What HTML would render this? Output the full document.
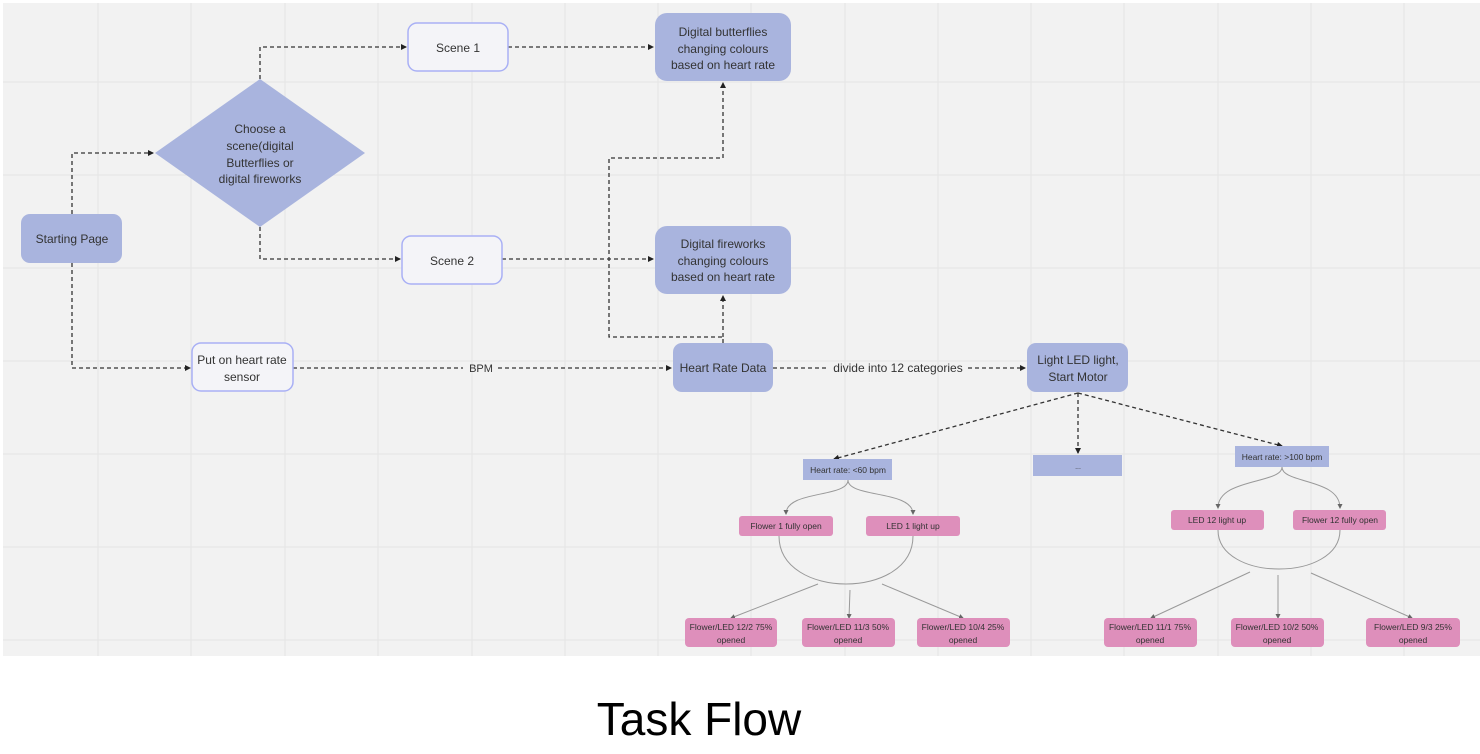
<!DOCTYPE html>
<html><head><meta charset="utf-8"><style>
html,body{margin:0;padding:0;background:#fff;}
svg{display:block;}
text{font-family:"Liberation Sans",sans-serif;fill:#333;}
</style></head><body>
<svg width="1480" height="754" viewBox="0 0 1480 754" xmlns="http://www.w3.org/2000/svg">
<defs>
<marker id="a" markerWidth="6" markerHeight="6" refX="5" refY="3" orient="auto" markerUnits="userSpaceOnUse"><path d="M0,0L6,3L0,6z" fill="#222"/></marker>
<marker id="g" markerWidth="5" markerHeight="5" refX="4" refY="2.5" orient="auto" markerUnits="userSpaceOnUse"><path d="M0,0L5,2.5L0,5z" fill="#666"/></marker>
</defs>
<rect x="3" y="3" width="1477" height="653" fill="#f2f2f2"/>
<g stroke="#e4e4e4" stroke-width="1">
<line x1="98" y1="3" x2="98" y2="656"/><line x1="191" y1="3" x2="191" y2="656"/><line x1="285" y1="3" x2="285" y2="656"/><line x1="378" y1="3" x2="378" y2="656"/><line x1="472" y1="3" x2="472" y2="656"/><line x1="565" y1="3" x2="565" y2="656"/><line x1="658" y1="3" x2="658" y2="656"/><line x1="751" y1="3" x2="751" y2="656"/><line x1="845" y1="3" x2="845" y2="656"/><line x1="938" y1="3" x2="938" y2="656"/><line x1="1031" y1="3" x2="1031" y2="656"/><line x1="1124" y1="3" x2="1124" y2="656"/><line x1="1218" y1="3" x2="1218" y2="656"/><line x1="1311" y1="3" x2="1311" y2="656"/><line x1="1404" y1="3" x2="1404" y2="656"/>
<line x1="3" y1="82" x2="1480" y2="82"/><line x1="3" y1="175" x2="1480" y2="175"/><line x1="3" y1="268" x2="1480" y2="268"/><line x1="3" y1="361" x2="1480" y2="361"/><line x1="3" y1="454" x2="1480" y2="454"/><line x1="3" y1="547" x2="1480" y2="547"/><line x1="3" y1="640" x2="1480" y2="640"/>
</g>
<g fill="none" stroke="#333" stroke-width="1.3" stroke-dasharray="4,3">
<path d="M72,214V153H153" marker-end="url(#a)"/>
<path d="M72,263V368H190" marker-end="url(#a)"/>
<path d="M260,79V47H406" marker-end="url(#a)"/>
<path d="M260,227V259H400" marker-end="url(#a)"/>
<path d="M508,47H653" marker-end="url(#a)"/>
<path d="M502,259H653" marker-end="url(#a)"/>
<path d="M293,368H463"/><path d="M498,368H671" marker-end="url(#a)"/>
<path d="M723,343V337H609V158H723V83" marker-end="url(#a)"/>
<path d="M723,337V296" marker-end="url(#a)"/>
<path d="M773,368H828"/><path d="M968,368H1025" marker-end="url(#a)"/>
<path d="M1078,393L834,459" marker-end="url(#a)"/>
<path d="M1078,393V453" marker-end="url(#a)"/>
<path d="M1078,393L1282,446" marker-end="url(#a)"/>
</g>
<text x="481" y="372" font-size="11" text-anchor="middle">BPM</text>
<text x="898" y="372" font-size="12" text-anchor="middle">divide into 12 categories</text>
<g fill="none" stroke="#999" stroke-width="1">
<path d="M848,480C848,498 786,490 786,514" marker-end="url(#g)"/>
<path d="M848,480C848,498 913,490 913,514" marker-end="url(#g)"/>
<path d="M779,536C779,600 913,600 913,536"/>
<path d="M818,584L731,618" marker-end="url(#g)"/>
<path d="M850,590L849,618" marker-end="url(#g)"/>
<path d="M882,584L963,618" marker-end="url(#g)"/>
<path d="M1282,467C1282,484 1218,478 1218,508" marker-end="url(#g)"/>
<path d="M1282,467C1282,484 1340,478 1340,508" marker-end="url(#g)"/>
<path d="M1218,530C1218,582 1340,582 1340,530"/>
<path d="M1250,572L1151,618" marker-end="url(#g)"/>
<path d="M1278,575L1278,618" marker-end="url(#g)"/>
<path d="M1311,573L1412,618" marker-end="url(#g)"/>
</g>
<rect x="21" y="214" width="101" height="49" rx="9" fill="#a9b4de"/>
<text x="72" y="243" font-size="12" text-anchor="middle">Starting Page</text>
<polygon points="155,153 260,79 365,153 260,227" fill="#a9b4de"/>
<text font-size="12" text-anchor="middle"><tspan x="260" y="133">Choose a</tspan><tspan x="260" y="150">scene(digital</tspan><tspan x="260" y="167">Butterflies or</tspan><tspan x="260" y="183">digital fireworks</tspan></text>
<rect x="408" y="23" width="100" height="48" rx="9" fill="#f4f4f8" stroke="#a9b0f5" stroke-width="1.5"/>
<text x="458" y="52" font-size="12" text-anchor="middle">Scene 1</text>
<rect x="402" y="236" width="100" height="48" rx="9" fill="#f4f4f8" stroke="#a9b0f5" stroke-width="1.5"/>
<text x="452" y="265" font-size="12" text-anchor="middle">Scene 2</text>
<rect x="192" y="343" width="101" height="48" rx="9" fill="#f4f4f8" stroke="#a9b0f5" stroke-width="1.5"/>
<text font-size="12" text-anchor="middle"><tspan x="242" y="364">Put on heart rate</tspan><tspan x="242" y="381">sensor</tspan></text>
<rect x="655" y="13" width="136" height="68" rx="12" fill="#a9b4de"/>
<text font-size="12" text-anchor="middle"><tspan x="723" y="36">Digital butterflies</tspan><tspan x="723" y="53">changing colours</tspan><tspan x="723" y="69">based on heart rate</tspan></text>
<rect x="655" y="226" width="136" height="68" rx="12" fill="#a9b4de"/>
<text font-size="12" text-anchor="middle"><tspan x="723" y="248">Digital fireworks</tspan><tspan x="723" y="265">changing colours</tspan><tspan x="723" y="281">based on heart rate</tspan></text>
<rect x="673" y="343" width="100" height="49" rx="9" fill="#a9b4de"/>
<text x="723" y="372" font-size="12" text-anchor="middle">Heart Rate Data</text>
<rect x="1027" y="343" width="101" height="49" rx="9" fill="#a9b4de"/>
<text font-size="12" text-anchor="middle"><tspan x="1078" y="364">Light LED light,</tspan><tspan x="1078" y="381">Start Motor</tspan></text>
<rect x="1033" y="455" width="89" height="21" fill="#a9b4de"/>
<text x="1078" y="469" font-size="7" text-anchor="middle">...</text>
<rect x="803" y="459" width="89" height="21" fill="#a9b4de"/>
<text x="848" y="473" font-size="8.5" text-anchor="middle">Heart rate: &lt;60 bpm</text>
<rect x="1235" y="446" width="94" height="21" fill="#a9b4de"/>
<text x="1282" y="460" font-size="8.5" text-anchor="middle">Heart rate: &gt;100 bpm</text>
<g fill="#de8fbb">
<rect x="739" y="516" width="94" height="20" rx="3"/><rect x="866" y="516" width="94" height="20" rx="3"/>
<rect x="1171" y="510" width="93" height="20" rx="3"/><rect x="1293" y="510" width="93" height="20" rx="3"/>
<rect x="685" y="618" width="92" height="29" rx="4"/><rect x="802" y="618" width="93" height="29" rx="4"/><rect x="917" y="618" width="93" height="29" rx="4"/>
<rect x="1104" y="618" width="93" height="29" rx="4"/><rect x="1231" y="618" width="93" height="29" rx="4"/><rect x="1366" y="618" width="94" height="29" rx="4"/>
</g>
<g font-size="8.5" text-anchor="middle">
<text x="786" y="529">Flower 1 fully open</text><text x="913" y="529">LED 1 light up</text>
<text x="1217" y="523">LED 12 light up</text><text x="1340" y="523">Flower 12 fully open</text>
<text><tspan x="731" y="630">Flower/LED 12/2 75%</tspan><tspan x="731" y="643">opened</tspan></text>
<text><tspan x="848" y="630">Flower/LED 11/3 50%</tspan><tspan x="848" y="643">opened</tspan></text>
<text><tspan x="963" y="630">Flower/LED 10/4 25%</tspan><tspan x="963" y="643">opened</tspan></text>
<text><tspan x="1150" y="630">Flower/LED 11/1 75%</tspan><tspan x="1150" y="643">opened</tspan></text>
<text><tspan x="1277" y="630">Flower/LED 10/2 50%</tspan><tspan x="1277" y="643">opened</tspan></text>
<text><tspan x="1413" y="630">Flower/LED 9/3 25%</tspan><tspan x="1413" y="643">opened</tspan></text>
</g>
<text x="699" y="735" font-size="46" text-anchor="middle" style="fill:#000">Task Flow</text>
</svg>
</body></html>
